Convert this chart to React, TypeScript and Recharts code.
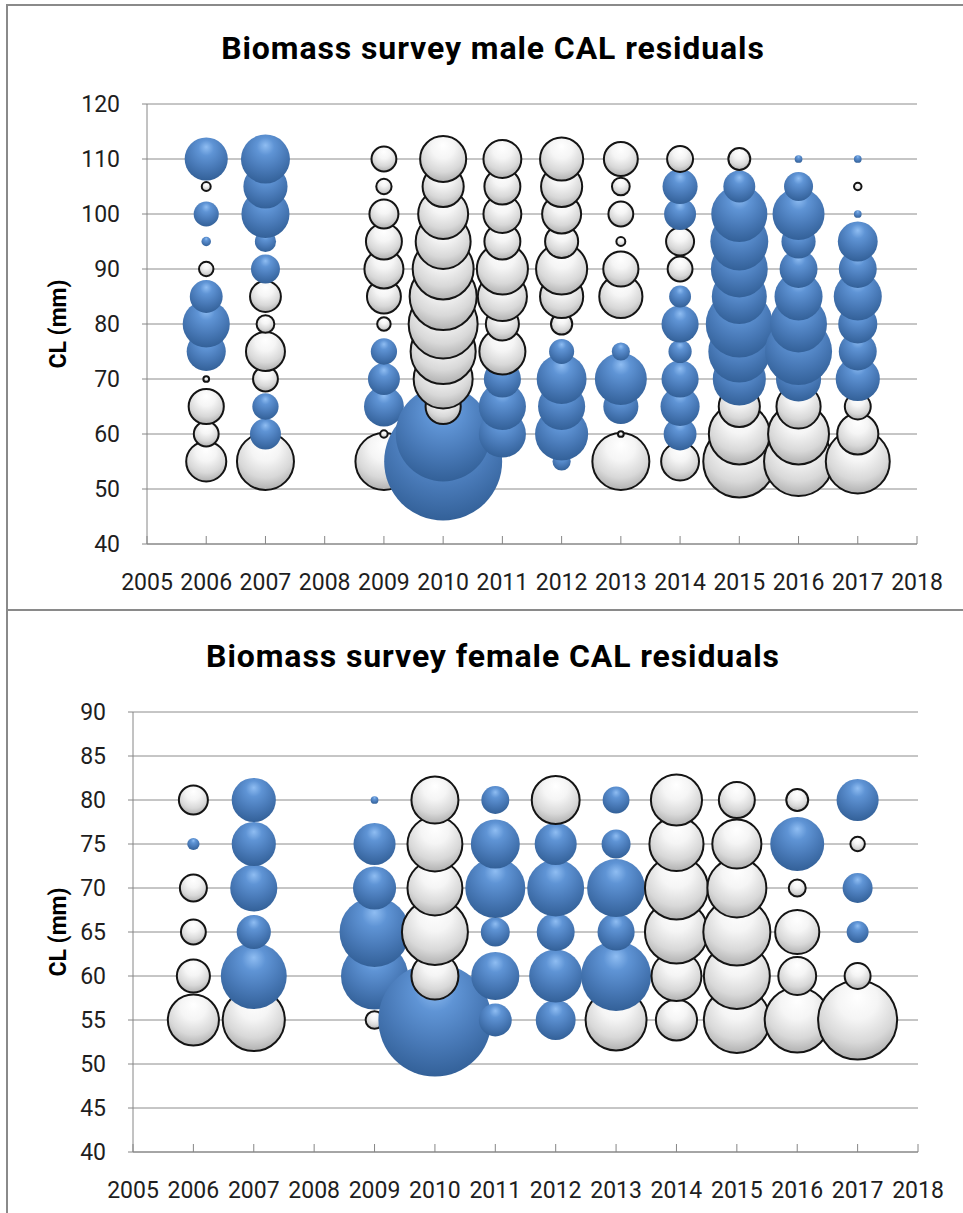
import React from "react";
import { CartesianGrid, Scatter, ScatterChart, XAxis, YAxis, ZAxis } from "recharts";

const years = [2006, 2007, 2009, 2010, 2011, 2012, 2013, 2014, 2015, 2016, 2017];
const yearTicks = [2005, 2006, 2007, 2008, 2009, 2010, 2011, 2012, 2013, 2014, 2015, 2016, 2017, 2018];

const maleLengths = [55, 60, 65, 70, 75, 80, 85, 90, 95, 100, 105, 110];
const maleTicks = [40, 50, 60, 70, 80, 90, 100, 110, 120];
const femaleLengths = [55, 60, 65, 70, 75, 80];
const femaleTicks = [40, 45, 50, 55, 60, 65, 70, 75, 80, 85, 90];

// residuals by length class (55 mm upward); positive = blue, negative = white
const male2006 = [-0.59, -0.24, -0.46, -0.02, 0.51, 0.74, 0.36, -0.09, 0.03, 0.21, -0.04, 0.62];
const male2007 = [-1.16, 0.32, 0.23, -0.24, -0.56, -0.13, -0.36, 0.28, 0.15, 0.77, 0.65, 0.8];
const male2009 = [-1.16, -0.03, 0.53, 0.34, 0.23, -0.08, -0.43, -0.56, -0.48, -0.32, -0.1, -0.24];
const male2010 = [4.64, 3.0, -0.46, -1.24, -1.5, -1.68, -1.59, -1.32, -1.08, -0.9, -0.62, -0.77];
const male2011 = [0, 0.74, 0.74, 0.46, -0.77, -0.41, -0.87, -0.94, -0.48, -0.53, -0.48, -0.53];
const male2012 = [0.11, 0.94, 0.74, 0.83, 0.21, -0.18, -0.68, -0.94, -0.41, -0.56, -0.62, -0.68];
const male2013 = [-1.16, -0.02, 0.41, 0.9, 0.11, 0, -0.68, -0.46, -0.04, -0.24, -0.13, -0.43];
const male2014 = [-0.53, 0.36, 0.51, 0.46, 0.18, 0.46, 0.16, -0.24, -0.3, 0.34, 0.41, -0.26];
const male2015 = [-1.83, -1.32, -0.62, 0.94, 1.28, 1.5, 1.01, 1.08, 1.12, 1.05, 0.34, -0.19];
const male2016 = [-1.68, -1.32, -0.71, 0.68, 1.5, 1.08, 0.77, 0.48, 0.39, 0.9, 0.28, 0.02];
const male2017 = [-1.45, -0.62, -0.26, 0.65, 0.48, 0.51, 0.77, 0.48, 0.53, 0.02, -0.03, 0.02];

const female2006 = [-0.94, -0.41, -0.24, -0.28, 0.05, -0.32];
const female2007 = [-1.37, 1.45, 0.39, 0.74, 0.65, 0.65];
const female2009 = [-0.13, 1.5, 1.63, 0.62, 0.59, 0.02];
const female2010 = [4.26, -0.8, -1.54, -1.08, -1.08, -0.8];
const female2011 = [0.36, 0.77, 0.28, 1.2, 0.8, 0.26];
const female2012 = [0.53, 0.94, 0.48, 1.08, 0.59, -0.83];
const female2013 = [-1.32, 1.63, 0.46, 1.12, 0.28, 0.24];
const female2014 = [-0.62, -0.9, -1.41, -1.41, -1.05, -0.94];
const female2015 = [-1.54, -1.54, -1.59, -1.24, -0.87, -0.48];
const female2016 = [-1.5, -0.53, -0.71, -0.12, 0.97, -0.19];
const female2017 = [-2.19, -0.26, 0.16, 0.3, -0.09, 0.59];

const maleByYear = [male2006, male2007, male2009, male2010, male2011, male2012, male2013, male2014, male2015, male2016, male2017];
const femaleByYear = [female2006, female2007, female2009, female2010, female2011, female2012, female2013, female2014, female2015, female2016, female2017];

const buildRows = (lengths: number[], byYear: number[][]) =>
    years
        .flatMap((year, i) => lengths.map((length, j) => ({ year, length, res: byYear[i][j], size: Math.abs(byYear[i][j]) })))
        .filter((r) => r.size > 0);

const FONT = "Roboto, 'Open Sans', sans-serif";
const AXIS = "#868686";

const Bubble = (props: any) => {
    const { cx, cy, width, payload } = props;
    const r = width / 2;
    if (!r || !payload) return null;
    if (payload.res > 0) {
        return <circle cx={cx} cy={cy} r={r} fill="url(#blueBall)" />;
    }
    return <circle cx={cx} cy={cy} r={Math.max(r - 1, 0.5)} fill="url(#whiteBall)" stroke="#141414" strokeWidth={2} />;
};

const YearTick = (props: any) => {
    const { x, y, payload } = props;
    return (
        <g>
            <line x1={x} x2={x} y1={y - 38} y2={y - 46} stroke={AXIS} />
            <text x={x} y={y} dy="0.35em" textAnchor="middle" fontSize={23} fill="#1e1e1e" fontFamily={FONT}>
                {payload.value}
            </text>
        </g>
    );
};

function BubblePanel({ title, rows, yTicks, yMax, plotLeft, plotRight, top }: any) {
    return (
        <div style={{ position: "absolute", left: 0, top, width: 963, height: 605 }}>
            <div
                style={{
                    position: "absolute", left: 0, top: 30, width: 986, textAlign: "center",
                    fontFamily: FONT, fontWeight: 700, fontSize: 32, letterSpacing: "0.9px", lineHeight: "36px", color: "#000",
                }}
            >
                {title}
            </div>
            <ScatterChart width={963} height={605} margin={{ top: 104, right: 963 - plotRight, bottom: 1, left: 0 }}>
                <defs>
                    <radialGradient id="blueBall" cx="50%" cy="32%" r="72%" fx="50%" fy="22%">
                        <stop offset="0%" stopColor="#8fbdf2" />
                        <stop offset="25%" stopColor="#5f94d5" />
                        <stop offset="60%" stopColor="#497ab8" />
                        <stop offset="100%" stopColor="#305d94" />
                    </radialGradient>
                    <radialGradient id="whiteBall" cx="50%" cy="32%" r="72%" fx="50%" fy="20%">
                        <stop offset="0%" stopColor="#ffffff" />
                        <stop offset="35%" stopColor="#f5f5f5" />
                        <stop offset="70%" stopColor="#d8d8d8" />
                        <stop offset="100%" stopColor="#a9a9a9" />
                    </radialGradient>
                </defs>
                <CartesianGrid vertical={false} stroke="#8c8c8c" />
                <XAxis
                    type="number" dataKey="year" domain={[2005, 2018]} ticks={yearTicks} interval={0}
                    height={60} tickSize={0} tickMargin={38} tick={<YearTick />} axisLine={{ stroke: AXIS }} tickLine={false}
                />
                <YAxis
                    type="number" dataKey="length" domain={[40, yMax]} ticks={yTicks} interval={0}
                    width={plotLeft} tickSize={5} tickMargin={22} axisLine={{ stroke: AXIS }} tickLine={{ stroke: AXIS }}
                    tick={{ fontSize: 23, fill: "#1e1e1e", fontFamily: FONT }}
                    label={{
                        value: "CL (mm)", angle: -90, position: "insideLeft", offset: 58,
                        style: { textAnchor: "middle", fontWeight: 700, fontSize: 23, fontFamily: FONT, fill: "#000" },
                    }}
                />
                <ZAxis type="number" dataKey="size" domain={[0, 5]} range={[0, 11781]} />
                <Scatter data={rows} shape={<Bubble />} isAnimationActive={false} />
            </ScatterChart>
        </div>
    );
}

export default function App() {
    return (
        <div style={{ position: "absolute", left: 0, top: 0, width: 963, height: 1213, background: "#fff", overflow: "hidden" }}>
            <div style={{ position: "absolute", left: 6, top: 4, width: 960, height: 604, borderLeft: "2px solid #8a8a8a", borderTop: "2px solid #8a8a8a" }} />
            <div style={{ position: "absolute", left: 6, top: 609, width: 960, height: 610, borderLeft: "2px solid #8a8a8a", borderTop: "2px solid #8a8a8a" }} />
            <BubblePanel
                title="Biomass survey male CAL residuals" rows={buildRows(maleLengths, maleByYear)}
                yTicks={maleTicks} yMax={120} plotLeft={147} plotRight={917} top={0}
            />
            <BubblePanel
                title="Biomass survey female CAL residuals" rows={buildRows(femaleLengths, femaleByYear)}
                yTicks={femaleTicks} yMax={90} plotLeft={133} plotRight={918} top={608}
            />
        </div>
    );
}
